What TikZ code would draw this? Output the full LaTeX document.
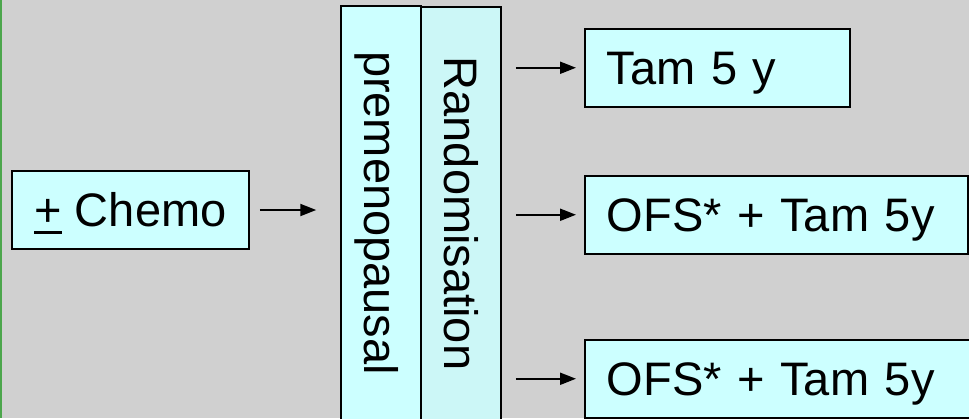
\documentclass[tikz,border=0pt]{standalone}
\usepackage{fontspec}
\setmainfont{Liberation Sans}
\usetikzlibrary{arrows.meta}

\definecolor{slide}{RGB}{208,208,208}
\definecolor{cyanbox}{RGB}{204,255,255}
\definecolor{cyanbox2}{RGB}{204,247,247}
\definecolor{edge}{RGB}{76,166,76}

% plus sign with a heavy bar under it
\newcommand{\plusbar}{\vtop{\hbox{+}\kern4pt\hrule height 3pt}}

\begin{document}
\begin{tikzpicture}[x=1pt, y=-1pt,
    box/.style={draw, line width=1.5pt, fill=cyanbox, inner sep=0pt,
      font=\fontsize{47pt}{56pt}\selectfont, text height=33pt, text depth=0pt},
    arm/.style={box, anchor=north west, minimum height=78, inner xsep=22pt, align=left},
    tall/.style={box, rotate=-90, minimum height=80},
    go/.style={line width=2pt, -{Triangle[length=16pt, width=12pt]}}]
    \useasboundingbox (0,0) rectangle (969,418);
    \clip (0,0) rectangle (969,418);
    \fill[slide] (0,0) rectangle (969,418);
    \fill[edge] (0,0) rectangle (1.5,418);

    % entry box and the two upright bars
    \node[box, minimum width=237, minimum height=78] (chemo) at (130.5,210) {\plusbar{} Chemo};
    \node[tall, minimum width=414] (pre) at (381,213) {premenopausal};
    \node[tall, minimum width=413, fill=cyanbox2] (rand) at (461,213.5) {Randomisation};

    % the three arms
    \foreach \nm/\yy/\tw/\txt in {tam/28/221/Tam 5 y, ofsa/175/339/OFS* + Tam 5y, ofsb/339/356/OFS* + Tam 5y}
    {
    \node[arm, text width=\tw pt] (\nm) at (584,\yy) {\txt};
    }

    \draw[go, shorten <=10pt, shorten >=24pt] (chemo.east) -- (chemo.east -| pre.south);
    \foreach \nm in {tam, ofsa, ofsb}
    {
    \draw[go, shorten <=14pt, shorten >=8pt] (rand.north |- \nm.west) -- (\nm.west);
    }
\end{tikzpicture}
\end{document}
